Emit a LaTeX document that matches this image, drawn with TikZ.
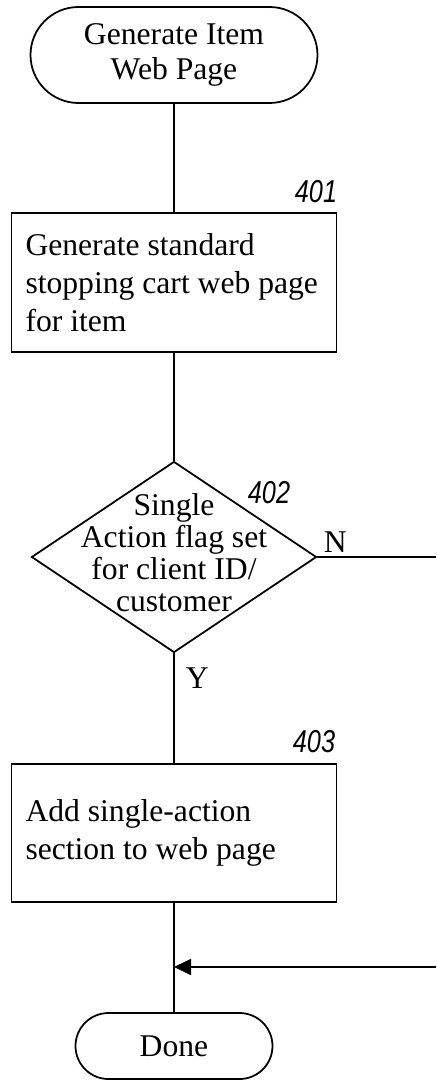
\documentclass[tikz,border=0pt]{standalone}
\usepackage{fontspec}
\setmainfont{Liberation Serif}
\newfontfamily\refnumfont[FakeStretch=0.8]{Liberation Sans}
\usetikzlibrary{shapes.geometric,shapes.misc,arrows.meta,positioning}

\begin{document}
\begin{tikzpicture}[
    line width=1pt,
    terminal/.style={rounded rectangle, draw, align=center, inner sep=0pt, font=\fontsize{18}{20.4}\selectfont},
    process/.style={rectangle, draw, minimum width=6.5cm, minimum height=2.77cm, inner xsep=0.28cm, inner ysep=0.3cm, text width=5.94cm, align=flush left, font=\fontsize{18}{21.8}\selectfont},
    decision/.style={diamond, draw, minimum width=5.7cm, minimum height=3.82cm, inner sep=0pt},
    flagtext/.style={align=flush center, inner sep=0pt, font=\fontsize{18}{18.2}\selectfont},
    refnum/.style={inner sep=0pt, font=\fontsize{18}{20}\refnumfont\itshape},
    branch/.style={inner sep=0pt, font=\fontsize{18}{20}\selectfont},
    arrow/.style={-{Triangle[length=0.34cm, width=0.32cm]}}
]

% page frame
\useasboundingbox (0,0) rectangle (8.72,-21.6);

% Main column of the flow
\node[terminal, minimum width=5.74cm, minimum height=1.92cm] (start) at (3.48,-1.1) {Generate Item\\Web Page};
\node[process] (gen) at (3.48,-5.65) {Generate standard\\stopping cart web page\\for item};
\node[decision] (flag) at (3.48,-11.14) {};
\node[flagtext] (flaglabel) at (3.48,-11.05) {Single\\Action flag set\\for client ID/\\customer};
\node[process, minimum height=2.76cm] (add) at (3.48,-16.66) {Add single-action\\section to web page};
\node[terminal, minimum width=3.94cm, minimum height=1.32cm] (done) at (3.48,-20.92) {Done};

% Reference numbers
\node[refnum, anchor=base east] (n401) at (6.76,-4.06) {401};
\node[refnum, anchor=base west] (n402) at (4.94,-10.06) {402};
\node[refnum, anchor=base east] (n403) at (6.72,-15.04) {403};

% Branch labels
\node[branch, anchor=base west] (no) at (6.46,-11.04) {N};
\node[branch, anchor=base west] (yes) at (3.70,-13.76) {Y};

% Free ends on the right
\coordinate (nout) at (8.72,-11.14);
\coordinate (nback) at (8.72,-19.34);
\coordinate (join) at (3.48,-19.34);

% Connectors
\draw (start) -- (gen);
\draw (gen) -- (flag);
\draw (flag) -- (add);
\draw (add) -- (done);
\draw (flag.east) -- (nout);
\draw[arrow] (nback) -- (join);

\end{tikzpicture}
\end{document}
